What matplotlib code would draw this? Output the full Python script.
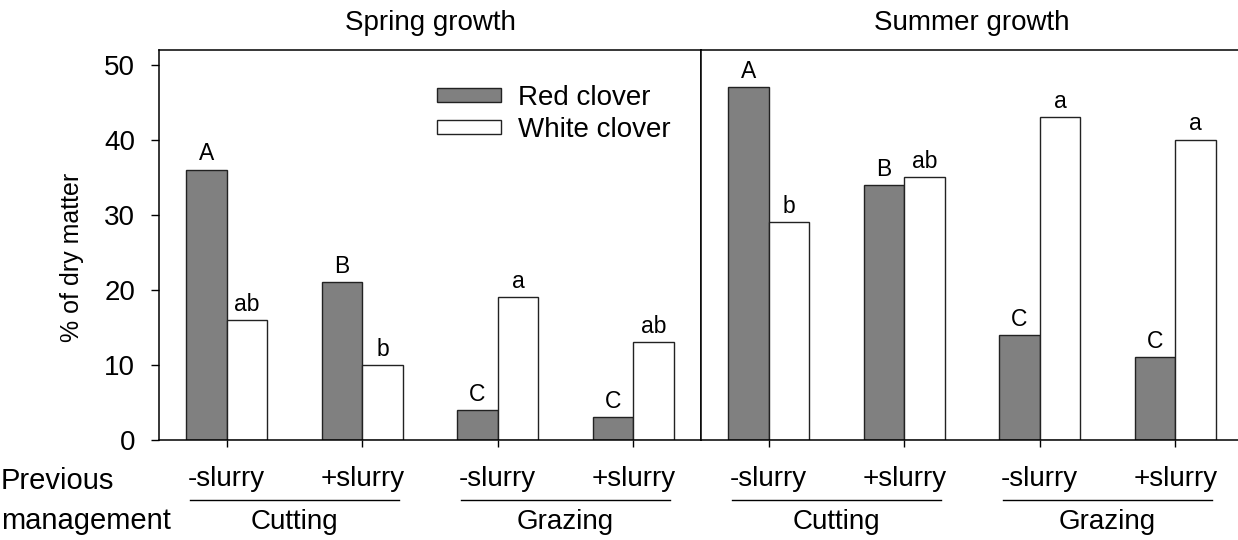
import numpy as np
import matplotlib.pyplot as plt
from matplotlib.patches import Patch

plt.rcParams['font.family'] = ['Liberation Sans', 'DejaVu Sans']

# Data
treatments = ['-slurry', '+slurry', '-slurry', '+slurry']
groups = ['Cutting', 'Grazing']
panels = ['Spring growth', 'Summer growth']

spring_red = [36, 21, 4, 3]
spring_white = [16, 10, 19, 13]
summer_red = [47, 34, 14, 11]
summer_white = [29, 35, 43, 40]

spring_red_letters = ['A', 'B', 'C', 'C']
spring_white_letters = ['ab', 'b', 'a', 'ab']
summer_red_letters = ['A', 'B', 'C', 'C']
summer_white_letters = ['b', 'ab', 'a', 'a']

red_color = '#808080'
fs = 20

fig = plt.figure(figsize=(12.38, 5.4), dpi=100)
ax1 = fig.add_axes([0.1284, 0.1852, 0.4378, 0.7231])
ax2 = fig.add_axes([0.5662, 0.1852, 0.4378, 0.7231])

x = np.arange(1, 5)
w = 0.3

data = [(ax1, spring_red, spring_white, spring_red_letters, spring_white_letters),
        (ax2, summer_red, summer_white, summer_red_letters, summer_white_letters)]

for i, (ax, red, white, rl, wl) in enumerate(data):
    b1 = ax.bar(x - w / 2, red, w, color=red_color, edgecolor='#222222', linewidth=1)
    b2 = ax.bar(x + w / 2, white, w, color='white', edgecolor='#222222', linewidth=1)
    for bar, lab in zip(list(b1) + list(b2), rl + wl):
        ax.annotate(lab, (bar.get_x() + bar.get_width() / 2, bar.get_height()),
                    xytext=(0, 3), textcoords='offset points',
                    ha='center', va='bottom', fontsize=16.5)

    ax.set_xlim(0.5, 4.5)
    ax.set_ylim(0, 52)
    ax.set_xticks(x)
    ax.set_xticklabels(treatments, fontsize=fs)
    ax.tick_params(axis='x', direction='out', length=5, width=1, pad=14)
    for s in ax.spines.values():
        s.set_linewidth(1.1)
    ax.set_title(panels[i], fontsize=fs, pad=14)

    # group lines and labels under the tick labels
    trans = ax.get_xaxis_transform()
    for j, g in enumerate(groups):
        c = 1.5 + 2 * j
        ax.plot([c - 0.77, c + 0.77], [-0.154, -0.154], color='black', lw=1,
                transform=trans, clip_on=False)
        ax.text(c, -0.21, g, transform=trans, ha='center', va='center', fontsize=fs)

ax1.set_yticks([0, 10, 20, 30, 40, 50])
ax1.tick_params(axis='y', direction='out', length=6, width=1, pad=11, labelsize=fs)
ax2.set_yticks([])
ax2.spines['right'].set_visible(False)

fig.text(72 / 1238, 1 - 257 / 540, '% of dry matter', rotation=90,
         ha='center', va='center', fontsize=18)
fig.text(1 / 1238, 1 - 481 / 540, 'Previous', ha='left', va='center', fontsize=21)
fig.text(1 / 1238, 1 - 521 / 540, 'management', ha='left', va='center', fontsize=21)

handles = [Patch(facecolor=red_color, edgecolor='#222222', linewidth=1),
           Patch(facecolor='white', edgecolor='#222222', linewidth=1)]
ax1.legend(handles, ['Red clover', 'White clover'], loc='upper left',
           bbox_to_anchor=(0.513, 0.91), frameon=False, fontsize=fs,
           handlelength=2.3, handleheight=0.4, handletextpad=0.6,
           labelspacing=0.22, borderpad=0, borderaxespad=0)

plt.savefig('out.png', dpi=100)
